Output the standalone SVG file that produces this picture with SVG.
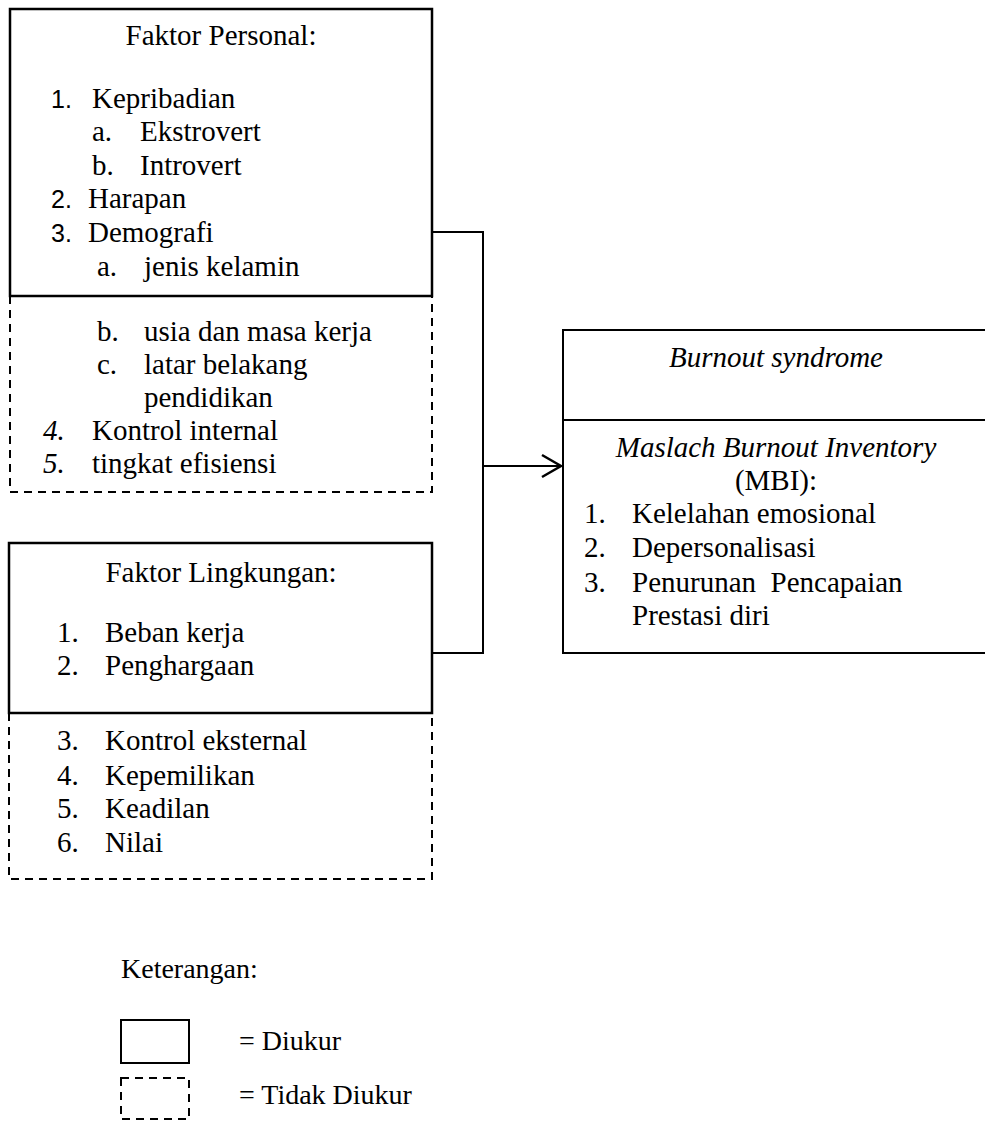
<svg xmlns="http://www.w3.org/2000/svg" width="985" height="1121" viewBox="0 0 985 1121">
<defs>
<style>
text{font-family:'Liberation Serif',serif;font-size:29px;fill:#000}
.it{font-style:italic}
.sn{font-family:'Liberation Sans',sans-serif;font-size:25px}
.lg{font-size:28px}
.mid{text-anchor:middle}
.solid{fill:none;stroke:#000;stroke-width:2.5}
.thin{fill:none;stroke:#000;stroke-width:2}
.dash{fill:none;stroke:#000;stroke-width:2;stroke-dasharray:8 6}
.conn{fill:none;stroke:#000;stroke-width:2}
</style>
<marker id="arr" viewBox="0 0 24 26" markerWidth="24" markerHeight="26" refX="21" refY="13" markerUnits="userSpaceOnUse" orient="auto">
<path d="M2,2 L21,13 L2,24" fill="none" stroke="#000" stroke-width="2.5"/>
</marker>
</defs>
<rect width="985" height="1121" fill="#fff"/>

<g id="personal" font-family="Liberation Serif, serif">
<path class="dash" d="M10,296 V492 H432 V296"/>
<rect class="solid" x="10" y="9" width="422" height="287"/>
<text class="mid" x="221" y="45">Faktor Personal:</text>
<text class="sn" x="51" y="108">1.</text><text x="92" y="108">Kepribadian</text>
<text x="92" y="141">a.</text><text x="140" y="141">Ekstrovert</text>
<text x="92" y="175">b.</text><text x="140" y="175">Introvert</text>
<text class="sn" x="51" y="208">2.</text><text x="88" y="208">Harapan</text>
<text class="sn" x="51" y="242">3.</text><text x="88" y="242">Demografi</text>
<text x="97" y="276">a.</text><text x="144" y="276">jenis kelamin</text>
<text x="97" y="341">b.</text><text x="144" y="341">usia dan masa kerja</text>
<text x="97" y="374">c.</text><text x="144" y="374">latar belakang</text>
<text x="144" y="407">pendidikan</text>
<text class="it" x="43" y="440">4.</text><text x="92" y="440">Kontrol internal</text>
<text class="it" x="43" y="473">5.</text><text x="92" y="473">tingkat efisiensi</text>
</g>

<g id="lingkungan" font-family="Liberation Serif, serif">
<path class="dash" d="M9,713 V879 H432 V713"/>
<rect class="solid" x="9" y="543" width="423" height="170"/>
<text class="mid" x="221" y="582">Faktor Lingkungan:</text>
<text x="57" y="642">1.</text><text x="105" y="642">Beban kerja</text>
<text x="57" y="675">2.</text><text x="105" y="675">Penghargaan</text>
<text x="57" y="750">3.</text><text x="105" y="750">Kontrol eksternal</text>
<text x="57" y="785">4.</text><text x="105" y="785">Kepemilikan</text>
<text x="57" y="818">5.</text><text x="105" y="818">Keadilan</text>
<text x="57" y="852">6.</text><text x="105" y="852">Nilai</text>
</g>

<g id="burnout" font-family="Liberation Serif, serif">
<rect class="thin" x="563" y="330" width="430" height="323"/>
<line class="thin" x1="563" y1="420" x2="993" y2="420"/>
<text class="it mid" x="776" y="367">Burnout syndrome</text>
<text class="it mid" x="776" y="457">Maslach Burnout Inventory</text>
<text class="mid" x="776" y="490">(MBI):</text>
<text x="584" y="523">1.</text><text x="632" y="523">Kelelahan emosional</text>
<text x="584" y="557">2.</text><text x="632" y="557">Depersonalisasi</text>
<text x="584" y="592">3.</text><text x="632" y="592" xml:space="preserve">Penurunan  Pencapaian</text>
<text x="632" y="625">Prestasi diri</text>
</g>

<g id="connectors">
<path class="conn" d="M432,232 H483 V653 H432"/>
<line class="conn" x1="483" y1="466" x2="561" y2="466" marker-end="url(#arr)"/>
</g>

<g id="legend" font-family="Liberation Serif, serif">
<text class="lg" x="121" y="978">Keterangan:</text>
<rect class="thin" x="121" y="1020" width="68" height="43"/>
<text class="lg" x="239" y="1050">= Diukur</text>
<rect class="dash" x="121" y="1078" width="68" height="41"/>
<text class="lg" x="239" y="1104">= Tidak Diukur</text>
</g>
</svg>
